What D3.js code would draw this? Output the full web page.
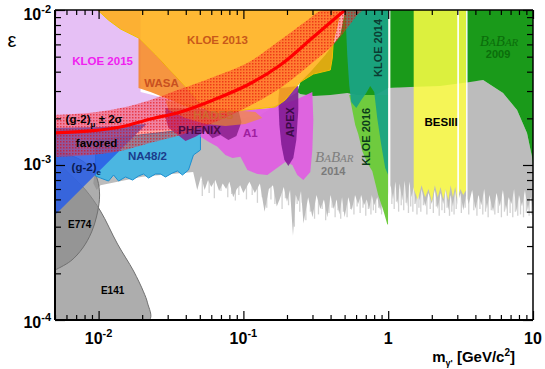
<!DOCTYPE html>
<html>
<head>
<meta charset="utf-8">
<script src="https://cdn.jsdelivr.net/npm/d3@7"></script>
<style>
  body { margin: 0; background: #fff; }
  svg { display: block; font-family: "Liberation Sans", Arial, Helvetica, sans-serif; }
  .lab { font-weight: bold; font-size: 11px; }
  .tk { font-weight: bold; font-size: 16px; }
  .tick line { stroke: #000; stroke-width: 1.2; }
</style>
</head>
<body>
<svg id="chart" width="545" height="369"></svg>
<script>
// ---- axis ticks ----
var xMajor = [0.01, 0.1, 1, 10];
var xMajorText = [["10", "-2"], ["10", "-1"], ["1", ""], ["10", ""]];
var yMajor = [1e-4, 1e-3, 1e-2];
var yMajorText = [["10", "-4"], ["10", "-3"], ["10", "-2"]];

// ---- exclusion regions, [mass GeV, epsilon] ----
var babar2014Top = [[0.00924,8.0e-4],[0.00969,1.08e-3],[0.0166,1.45e-3],[0.0505,1.81e-3],[0.131,2.1e-3],[0.236,2.96e-3],[0.547,2.91e-3],[1.0,3.14e-3],[4.52,3.54e-3],[6.21,2.91e-3],[7.76,2.26e-3],[9.09,1.61e-3],[9.84,1.13e-3],[10,1.0e-3]];
var babar2014Low = [[0.0092,7.6e-4],[0.0097,6.9e-4],[0.0103,7.4e-4],[0.02,8.4e-4],[0.045,9.0e-4],[0.048,6.9e-4],[0.051,8.5e-4],[0.054,6.9e-4],[0.057,8.0e-4],[0.06,7.2e-4],[0.064,8.0e-4],[0.068,6.8e-4],[0.072,7.6e-4],[0.076,7.0e-4],[0.08,7.8e-4],[0.085,6.2e-4],[0.09,7.0e-4],[0.095,7.4e-4],[0.10,6.6e-4],[0.11,7.8e-4],[0.12,6.6e-4],[0.13,7.6e-4],[0.14,5.0e-4],[0.15,7.0e-4],[0.16,7.4e-4],[0.17,5.4e-4],[0.18,6.2e-4],[0.19,7.2e-4],[0.20,5.8e-4],[0.21,6.9e-4],[0.22,3.5e-4],[0.23,6.4e-4],[0.24,5.8e-4],[0.25,6.8e-4],[0.26,4.2e-4],[0.28,6.2e-4],[0.30,4.6e-4],[0.32,6.4e-4],[0.34,5.2e-4],[0.36,6.0e-4],[0.38,4.6e-4],[0.40,6.4e-4],[0.42,5.2e-4],[0.44,6.0e-4],[0.46,4.8e-4],[0.48,6.2e-4],[0.50,4.6e-4],[0.53,6.2e-4],[0.56,5.1e-4],[0.59,6.4e-4],[0.62,5.6e-4],[0.65,6.4e-4],[0.68,5.5e-4],[0.71,6.0e-4],[0.74,5.2e-4],[0.77,6.4e-4],[0.80,5.5e-4],[0.84,6.2e-4],[0.88,5.1e-4],[0.92,6.0e-4],[0.96,5.4e-4],[1.0,6.4e-4],[1.04,7.4e-4],[1.08,6.0e-4],[1.12,7.8e-4],[1.16,5.6e-4],[1.2,7.6e-4],[1.25,5.9e-4],[1.3,7.9e-4],[1.35,5.4e-4],[1.4,7.8e-4],[1.45,6.2e-4],[1.5,7.2e-4],[1.55,5.6e-4],[1.6,6.8e-4],[1.65,5.9e-4],[1.7,7.0e-4],[1.8,5.4e-4],[1.9,6.6e-4],[2.0,5.6e-4],[2.1,6.9e-4],[2.2,5.2e-4],[2.3,6.6e-4],[2.4,5.6e-4],[2.5,7.0e-4],[2.6,5.1e-4],[2.7,6.4e-4],[2.8,5.4e-4],[2.9,6.8e-4],[3.0,5.5e-4],[3.15,6.6e-4],[3.3,5.1e-4],[3.45,6.4e-4],[3.6,5.6e-4],[3.8,6.9e-4],[4.0,5.2e-4],[4.2,6.4e-4],[4.4,5.5e-4],[4.6,7.0e-4],[4.8,5.2e-4],[5.0,6.4e-4],[5.3,5.0e-4],[5.6,6.6e-4],[5.9,5.4e-4],[6.2,6.9e-4],[6.5,5.1e-4],[6.8,6.2e-4],[7.1,5.6e-4],[7.4,7.0e-4],[7.7,5.0e-4],[8.0,6.4e-4],[8.4,5.4e-4],[8.8,6.9e-4],[9.2,5.1e-4],[9.6,6.2e-4],[10,5.2e-4]];
// faint lower tails of the BaBar 2014 limit, [mass, lowest epsilon]
var babar2014Streaks = [[0.052,6.3e-4],[0.058,6.6e-4],[0.063,6.1e-4],[0.07,6.8e-4],[0.078,6.2e-4],[0.083,6.5e-4],[0.088,5.9e-4],[0.093,6.4e-4],
  [0.105,6.0e-4],[0.115,6.4e-4],[0.125,5.7e-4],[0.135,6.2e-4],[0.145,5.3e-4],[0.155,6.0e-4],[0.165,5.6e-4],[0.175,5.9e-4],[0.185,5.2e-4],[0.195,6.1e-4],[0.205,5.5e-4],[0.215,5.8e-4],[0.225,4.0e-4],[0.235,5.6e-4],[0.245,5.0e-4],[0.255,5.7e-4],
  [0.27,4.4e-4],[0.29,5.0e-4],[0.31,4.5e-4],[0.33,4.8e-4],[0.35,5.2e-4],[0.37,4.4e-4],[0.39,4.9e-4],[0.41,5.3e-4],[0.43,4.6e-4],[0.45,5.1e-4],[0.47,4.5e-4],[0.49,5.0e-4],[0.52,4.6e-4],[0.55,5.2e-4],[0.58,4.8e-4],[0.61,5.4e-4],[0.64,4.9e-4],[0.67,5.3e-4],[0.70,4.7e-4],[0.73,5.2e-4],[0.76,4.8e-4],[0.79,5.1e-4],[0.82,4.9e-4],[0.86,5.3e-4],[0.90,4.8e-4],[0.94,5.0e-4],[0.98,5.2e-4],
  [1.06,5.6e-4],[1.10,5.2e-4],[1.14,5.8e-4],[1.18,5.0e-4],[1.23,5.5e-4],[1.28,5.1e-4],[1.33,5.7e-4],[1.38,4.9e-4],[1.43,5.4e-4],[1.48,5.0e-4],[1.53,5.6e-4],[1.58,4.8e-4],[1.63,5.3e-4],[1.68,5.0e-4],[1.75,5.5e-4],[1.85,4.8e-4],[1.95,5.2e-4],[2.05,4.9e-4],[2.15,5.4e-4],[2.25,4.7e-4],[2.35,5.1e-4],[2.45,4.9e-4],[2.55,5.3e-4],[2.65,4.7e-4],[2.75,5.0e-4],[2.85,4.8e-4],[2.95,5.2e-4],
  [3.2,4.9e-4],[3.4,5.3e-4],[3.6,4.8e-4],[3.9,5.1e-4],[4.1,4.7e-4],[4.3,5.2e-4],[4.5,4.8e-4],[4.7,5.0e-4],[4.9,4.6e-4],[5.15,5.1e-4],[5.45,4.8e-4],[5.75,4.9e-4],[6.05,4.6e-4],[6.35,5.0e-4],[6.65,4.7e-4],[6.95,4.9e-4],[7.25,4.6e-4],[7.55,5.0e-4],[7.85,4.7e-4],[8.2,4.8e-4],[8.6,4.6e-4],[9.0,4.9e-4],[9.4,4.7e-4],[9.8,4.8e-4]];
var babar2009 = [[0.2357,2.96e-3],[0.2473,3.43e-3],[0.2898,3.98e-3],[0.3677,5.13e-3],[0.4667,6.9e-3],[0.5052,0.01],[10,0.01],[10,1.0e-3],[9.84,1.13e-3],[9.09,1.61e-3],[7.76,2.26e-3],[6.21,2.91e-3],[4.52,3.54e-3],[3.68,3.43e-3],[2.28,3.23e-3],[1.42,3.19e-3],[1.0,3.14e-3],[0.751,2.71e-3],[0.5215,2.91e-3],[0.3981,2.83e-3],[0.304,2.79e-3],[0.2473,2.87e-3]];
var kloe2015 = [[0.005,0.01],[0.0195,0.01],[0.0195,2.96e-3],[0.029,2.7e-3],[0.0505,2.33e-3],[0.0505,1.73e-3],[0.0103,1.61e-3],[0.005,1.49e-3]];
var e141 = [[0.005,1.08e-3],[0.00641,8.62e-4],[0.00814,6.9e-4],[0.0103,5.05e-4],[0.01352,3.09e-4],[0.01744,2.07e-4],[0.02043,1.52e-4],[0.02177,1.29e-4],[0.02248,1.0e-4],[0.005,1.0e-4]];
var e774 = [[0.005,2.1e-4],[0.00641,2.4e-4],[0.00776,2.91e-4],[0.00895,3.7e-4],[0.00984,4.97e-4],[0.01016,6.4e-4],[0.00984,8.0e-4],[0.00909,9.28e-4],[0.00751,1.08e-3],[0.005,1.25e-3]];
var na48 = [[0.00953,1.45e-3],[0.05052,1.73e-3],[0.05052,1.25e-3],[0.0452,1.16e-3],[0.04175,9.28e-4],[0.03796,8.62e-4],[0.03506,9.15e-4],[0.03239,8.88e-4],[0.02898,8.37e-4],[0.02677,8.75e-4],[0.02473,8.75e-4],[0.02212,8.24e-4],[0.02043,8.75e-4],[0.01887,8.49e-4],[0.01716,8.0e-4],[0.01535,8.37e-4],[0.01374,7.88e-4],[0.01269,8.62e-4],[0.01172,7.88e-4],[0.0103,8.24e-4],[0.00953,8.49e-4]];
var g2e = [[0.005,1.73e-3],[0.0103,1.76e-3],[0.0214,1.84e-3],[0.005,4.76e-4]];
var a1 = [[0.05052,2.2e-3],[0.09535,2.26e-3],[0.1535,2.33e-3],[0.2284,2.63e-3],[0.2992,2.96e-3],[0.304,1.95e-3],[0.2992,1.25e-3],[0.2898,9.01e-4],[0.2594,8.0e-4],[0.2357,8.62e-4],[0.2177,1.0e-3],[0.1949,1.046e-3],[0.1744,9.7e-4],[0.1464,8.62e-4],[0.125,8.75e-4],[0.1066,9.28e-4],[0.09535,1.13e-3],[0.08401,1.11e-3],[0.07514,1.16e-3],[0.0662,1.31e-3],[0.05737,1.41e-3],[0.05052,1.52e-3]];
var apex = [[0.1772,3.14e-3],[0.2395,3.23e-3],[0.2395,2.26e-3],[0.232,1.45e-3],[0.2212,1.11e-3],[0.2043,9.85e-4],[0.1918,1.08e-3],[0.1829,1.35e-3],[0.1772,1.81e-3],[0.1744,2.63e-3]];
var phenix = [[0.02898,2.33e-3],[0.0924,2.26e-3],[0.0969,1.89e-3],[0.0895,1.54e-3],[0.07882,1.45e-3],[0.06941,1.56e-3],[0.06113,1.49e-3],[0.0547,1.66e-3],[0.04667,1.52e-3],[0.03981,1.43e-3],[0.03396,1.61e-3],[0.0304,1.73e-3],[0.02898,2.01e-3]];
var kloe2016 = [[0.538,2.83e-3],[0.556,2.44e-3],[0.592,1.81e-3],[0.621,1.585e-3],[0.662,1.23e-3],[0.717,1.03e-3],[0.776,9.15e-4],[0.853,6.4e-4],[0.924,5.13e-4],[0.984,4.16e-4],[1.0,4.1e-4],[1.0,2.83e-3]];
var kloe2014 = [[0.5052,0.01],[1.0,0.01],[1.0,8.62e-4],[0.9535,9.56e-4],[0.895,1.35e-3],[0.84,2.01e-3],[0.801,2.96e-3],[0.7514,3.23e-3],[0.705,2.91e-3],[0.652,2.63e-3],[0.602,2.33e-3],[0.556,2.55e-3],[0.538,3.28e-3],[0.5215,5.13e-3]];
var besiiiTop = [[1.5,0.01],[3.45,0.01]];
var besiiiLow = [[1.5,7.0e-4],[1.6,6.0e-4],[1.7,7.4e-4],[1.8,6.2e-4],[1.9,7.0e-4],[2.0,5.8e-4],[2.1,7.4e-4],[2.2,6.2e-4],[2.3,7.2e-4],[2.4,6.0e-4],[2.5,7.0e-4],[2.6,5.9e-4],[2.7,7.4e-4],[2.8,6.2e-4],[2.9,7.2e-4],[3.0,6.0e-4],[3.15,7.0e-4],[3.3,6.4e-4],[3.45,6.9e-4]];
var kloe2013 = [[0.00984,0.01],[0.01172,8.6e-3],[0.01418,7.54e-3],[0.01716,6.9e-3],[0.01887,6.6e-3],[0.02473,5.13e-3],[0.03138,4.04e-3],[0.03981,3.19e-3],[0.04667,2.71e-3],[0.05298,2.33e-3],[0.06412,2.17e-3],[0.0881,2.23e-3],[0.121,2.3e-3],[0.1663,2.37e-3],[0.1949,2.63e-3],[0.2212,3.05e-3],[0.2473,3.43e-3],[0.304,3.86e-3],[0.3981,4.1e-3],[0.411,4.9e-3],[0.4175,6.31e-3],[0.445,8.0e-3],[0.4667,0.01]];
var wasa = [[0.01887,6.6e-3],[0.02473,5.13e-3],[0.03138,4.04e-3],[0.03981,3.19e-3],[0.04667,2.71e-3],[0.05298,2.33e-3],[0.04311,2.33e-3],[0.03138,2.63e-3],[0.02284,2.96e-3],[0.01887,3.14e-3]];
var hades = [[0.02898,2.63e-3],[0.05052,2.4e-3],[0.08137,2.26e-3],[0.121,2.2e-3],[0.1352,2.01e-3],[0.1032,1.84e-3],[0.07514,1.785e-3],[0.0547,1.84e-3],[0.03981,2.01e-3],[0.0304,2.26e-3]];
// vetoed resonance windows (mass ranges)
var vetoes = [[1.0, 1.035], [3.0, 3.08], [3.45, 3.53]];

// ---- (g-2)mu band ----
var g2muUpper = [[0.005,2.1e-3],[0.00881,2.17e-3],[0.01418,2.33e-3],[0.02284,2.63e-3],[0.03677,3.09e-3],[0.06211,3.7e-3],[0.1066,4.55e-3],[0.18,6.4e-3],[0.276,8.6e-3],[0.3563,0.01]];
var g2muLower = [[0.005,1.13e-3],[0.00881,1.16e-3],[0.01418,1.23e-3],[0.02284,1.39e-3],[0.03677,1.56e-3],[0.06211,1.87e-3],[0.1066,2.37e-3],[0.18,3.14e-3],[0.304,4.62e-3],[0.4175,5.94e-3],[0.5215,7.65e-3],[0.6113,9.28e-3],[0.662,0.01]];
var g2muCentral = [[0.005,1.61e-3],[0.00881,1.66e-3],[0.01418,1.76e-3],[0.02284,1.98e-3],[0.03677,2.2e-3],[0.06211,2.63e-3],[0.1066,3.28e-3],[0.18,4.42e-3],[0.304,6.69e-3],[0.4667,9.42e-3],[0.5052,0.01]];

var svg = d3.select("#chart");
var L = 55, R = 533, T = 10, B = 320;
var x = d3.scaleLog().domain([0.005, 10]).range([L, R]);
var y = d3.scaleLog().domain([1e-4, 1e-2]).range([B, T]);

var defs = svg.append("defs");
defs.append("clipPath").attr("id", "plot").append("rect")
  .attr("x", L).attr("y", T).attr("width", R - L).attr("height", B - T);
var pat = defs.append("pattern").attr("id", "hatch")
  .attr("width", 3).attr("height", 3).attr("patternUnits", "userSpaceOnUse");
pat.append("rect").attr("width", 3).attr("height", 3).attr("fill", "#ff3030").attr("opacity", 0.42);
pat.append("rect").attr("width", 1.5).attr("height", 1.5).attr("fill", "#e00000").attr("opacity", 0.55);

var line = d3.line().x(function (d) { return x(d[0]); }).y(function (d) { return y(d[1]); });
var smooth = d3.line().x(function (d) { return x(d[0]); }).y(function (d) { return y(d[1]); }).curve(d3.curveCatmullRom);

var g = svg.append("g").attr("clip-path", "url(#plot)");

function region(pts, fill, op, stroke, gen) {
  g.append("path").attr("d", (gen || line)(pts) + "Z")
    .attr("fill", fill).attr("fill-opacity", op)
    .attr("stroke", stroke || "none").attr("stroke-width", 1);
}

// streaks first so the solid grey sits on top of their roots
g.selectAll(".streak").data(babar2014Streaks).enter().append("line")
  .attr("class", "streak")
  .attr("x1", function (d) { return x(d[0]); }).attr("x2", function (d) { return x(d[0]); })
  .attr("y1", y(8.0e-4)).attr("y2", function (d) { return y(d[1]); })
  .attr("stroke", "#d2d2d2").attr("stroke-width", 1.3);
region(babar2014Top.concat(babar2014Low.slice().reverse()), "#bcbcbc", 1);
region(babar2009, "#1a9a1a", 1);
region(kloe2015, "#e6c0f5", 1);
region(e141, "#8a8a8a", 0.7, "#707070", smooth);
region(e774, "#8a8a8a", 0.7, "#707070", smooth);
region(na48, "#45b5e3", 0.95, "#1b8fd0");
region(g2e, "#2a5ee6", 0.88);
region(a1, "#df5fe0", 0.95);
region(apex, "#7d1690", 0.85);
region(phenix, "#8a1f8c", 0.85);
region(kloe2016, "#6fcb3e", 1);
region(kloe2014, "#1aa383", 0.95);
region(besiiiTop.concat(besiiiLow.slice().reverse()), "#ffff45", 0.85);
region(kloe2013, "#ffad10", 0.85, "#f0c000");
region(wasa, "#f5821e", 0.85);
region(hades, "#f7941d", 0.6);

vetoes.forEach(function (v) {
  g.append("rect").attr("x", x(v[0])).attr("width", x(v[1]) - x(v[0]))
    .attr("y", T).attr("height", B - T).attr("fill", "#fff");
});

g.append("path").attr("d", smooth(g2muUpper.concat(g2muLower.slice().reverse())) + "Z")
  .attr("fill", "url(#hatch)");
g.append("path").attr("d", smooth(g2muCentral))
  .attr("fill", "none").attr("stroke", "#ff0000").attr("stroke-width", 3.2);

// ---- labels ----
function lab(m, e, txt, color, size) {
  return svg.append("text").attr("class", "lab").attr("x", x(m)).attr("y", y(e))
    .attr("text-anchor", "middle").attr("fill", color).style("font-size", (size || 11) + "px").text(txt);
}
function vlab(m, e, txt, color) {
  svg.append("text").attr("class", "lab")
    .attr("transform", "translate(" + x(m) + "," + y(e) + ") rotate(-90)")
    .attr("text-anchor", "middle").attr("dy", "0.36em").attr("fill", color).text(txt);
}
function babar(m, e, color) {
  var t = svg.append("text").attr("x", x(m)).attr("y", y(e)).attr("text-anchor", "middle")
    .attr("fill", color).style("font-family", "'Liberation Serif', 'DejaVu Serif', serif").style("font-style", "italic");
  t.append("tspan").style("font-size", "15px").text("B");
  t.append("tspan").style("font-size", "11px").text("A");
  t.append("tspan").style("font-size", "15px").text("B");
  t.append("tspan").style("font-size", "11px").text("AR");
}

lab(0.01066, 4.42e-3, "KLOE 2015", "#f020f0", 11.5);
lab(0.0662, 6.03e-3, "KLOE 2013", "#c8581a", 11.5);
lab(0.02718, 3.19e-3, "WASA", "#c85020", 11.5);
lab(0.06211, 1.98e-3, "HADES", "#cd6a30", 11.5);
lab(0.04973, 1.585e-3, "PHENIX", "#4b0a46", 11.5);
lab(0.1118, 1.52e-3, "A1", "#a020a0", 11.5);
vlab(0.2109, 1.89e-3, "APEX", "#3c0a46");
lab(0.02177, 1.08e-3, "NA48/2", "#1a3c8c", 11.5);
lab(0.00969, 1.31e-3, "favored", "#000", 11.5);
lab(7.40e-3, 3.92e-4, "E774", "#000", 10);
lab(0.0125, 1.47e-4, "E141", "#000", 10);
lab(2.32, 1.785e-3, "BESIII", "#000", 11.5);
babar(0.424, 1.046e-3, "#808080");
lab(0.4175, 8.62e-4, "2014", "#7a7a7a", 11);
babar(5.83, 5.86e-3, "#0b6e0b");
lab(5.74, 4.9e-3, "2009", "#0b6e0b", 11);
vlab(0.8531, 5.69e-3, "KLOE 2014", "#0b3c32");
vlab(0.705, 1.52e-3, "KLOE 2016", "#0b3c1a");

var gm = svg.append("text").attr("class", "lab").attr("x", x(0.00592)).attr("y", y(1.87e-3)).style("font-size", "11.5px");
gm.append("tspan").text("(g-2)");
gm.append("tspan").attr("dy", 4).style("font-size", "8px").text("\u03bc");
gm.append("tspan").attr("dy", -4).text(" \u00b1 2\u03c3");
var ge = svg.append("text").attr("class", "lab").attr("x", x(6.51e-3)).attr("y", y(9.15e-4)).attr("fill", "#0a1a50").style("font-size", "11.5px");
ge.append("tspan").text("(g-2)");
ge.append("tspan").attr("dy", 4).style("font-size", "8px").text("e");

// ---- axes ----
var minorX = x.ticks().filter(function (v) { return !xMajor.some(function (M) { return Math.abs(M - v) / M < 1e-6; }); });
var minorY = y.ticks().filter(function (v) { return !yMajor.some(function (M) { return Math.abs(M - v) / M < 1e-6; }); });
function ax(gen, tr, vals, size) {
  var a = svg.append("g").attr("transform", tr).call(gen.tickValues(vals).tickSize(size).tickFormat(""));
  a.select(".domain").remove();
}
ax(d3.axisBottom(x), "translate(0," + B + ")", xMajor, -9);
ax(d3.axisBottom(x), "translate(0," + B + ")", minorX, -5);
ax(d3.axisTop(x), "translate(0," + T + ")", xMajor, -9);
ax(d3.axisTop(x), "translate(0," + T + ")", minorX, -5);
ax(d3.axisLeft(y), "translate(" + L + ",0)", yMajor, -10);
ax(d3.axisLeft(y), "translate(" + L + ",0)", minorY, -6);
ax(d3.axisRight(y), "translate(" + R + ",0)", yMajor, -10);
ax(d3.axisRight(y), "translate(" + R + ",0)", minorY, -6);

svg.append("line").attr("x1", L).attr("x2", R).attr("y1", B).attr("y2", B).attr("stroke", "#000").attr("stroke-width", 2);
svg.append("line").attr("x1", L).attr("x2", L).attr("y1", T).attr("y2", B).attr("stroke", "#000").attr("stroke-width", 2);
svg.append("line").attr("x1", L).attr("x2", R).attr("y1", T).attr("y2", T).attr("stroke", "#000").attr("stroke-width", 1.5);
svg.append("line").attr("x1", R).attr("x2", R).attr("y1", T).attr("y2", B).attr("stroke", "#000").attr("stroke-width", 1.5);

xMajor.forEach(function (v, i) {
  var t = svg.append("text").attr("class", "tk").attr("x", x(v)).attr("y", 344).attr("text-anchor", "middle");
  t.append("tspan").text(xMajorText[i][0]);
  if (xMajorText[i][1]) t.append("tspan").attr("dy", -7).style("font-size", "11px").text(xMajorText[i][1]);
});
var yBase = [328, 170, 20];
yMajor.forEach(function (v, i) {
  var t = svg.append("text").attr("class", "tk").attr("x", 51).attr("y", yBase[i]).attr("text-anchor", "end");
  t.append("tspan").text(yMajorText[i][0]);
  t.append("tspan").attr("dy", -7).style("font-size", "11px").text(yMajorText[i][1]);
});

svg.append("text").attr("x", 12).attr("y", 47).attr("text-anchor", "middle").style("font-size", "20px").text("\u03b5");
var xt = svg.append("text").attr("x", 515).attr("y", 362).attr("text-anchor", "end").style("font-weight", "bold").style("font-size", "15px");
xt.append("tspan").text("m");
xt.append("tspan").attr("dy", 4).style("font-size", "9px").text("\u03b3'");
xt.append("tspan").attr("dy", -4).text(" [GeV/c");
xt.append("tspan").attr("dy", -6).style("font-size", "10px").text("2");
xt.append("tspan").attr("dy", 6).text("]");
</script>
</body>
</html>
